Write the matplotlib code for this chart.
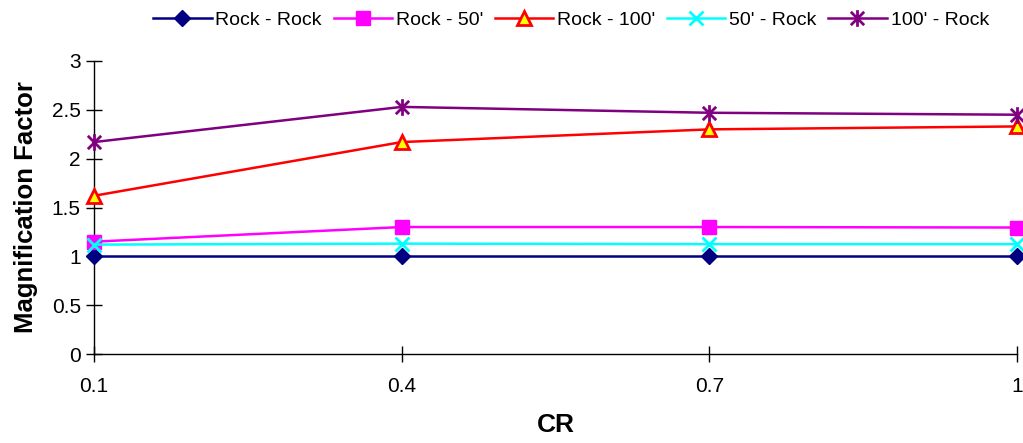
import matplotlib
matplotlib.use("Agg")
import matplotlib.pyplot as plt
from matplotlib.path import Path

plt.rcParams['font.family'] = ['Liberation Sans', 'DejaVu Sans']

categories = ["0.1", "0.4", "0.7", "1"]
rock_rock = [1.0, 1.0, 1.0, 1.0]
rock_50 = [1.15, 1.30, 1.30, 1.295]
rock_100 = [1.62, 2.17, 2.30, 2.33]
s50_rock = [1.12, 1.13, 1.125, 1.125]
s100_rock = [2.17, 2.53, 2.47, 2.45]
yticks = [0, 0.5, 1, 1.5, 2, 2.5, 3]
ytick_labels = ["0", "0.5", "1", "1.5", "2", "2.5", "3"]

star = Path([(-1, -1), (1, 1), (-1, 1), (1, -1), (0, -1.25), (0, 1.25)],
            [Path.MOVETO, Path.LINETO, Path.MOVETO, Path.LINETO, Path.MOVETO, Path.LINETO])

fig = plt.figure(figsize=(10.23, 4.43), dpi=100)
ax = fig.add_axes([94/1023, 89/443, 923/1023, 293/443])
x = list(range(len(categories)))

kw = dict(lw=1.8, clip_on=False, zorder=3)
ax.plot(x, rock_rock, color='#000080', marker='D', ms=8, mfc='#000080', mec='#000080', label='Rock - Rock', **kw)
ax.plot(x, rock_50, color='#FF00FF', marker='s', ms=10, mfc='#FF00FF', mec='#FF00FF', label="Rock - 50'", **kw)
ax.plot(x, rock_100, color='#FF0000', marker='^', ms=10, mfc='#FFFF00', mec='#FF0000', mew=2, label="Rock - 100'", **kw)
ax.plot(x, s50_rock, color='#00FFFF', marker='x', ms=10, mec='#00FFFF', mew=2, label="50' - Rock", **kw)
ax.plot(x, s100_rock, color='#800080', marker=star, ms=12, mec='#800080', mew=2, label="100' - Rock", **kw)

ax.set_xlim(0, 3)
ax.set_ylim(0, 3)
ax.set_xticks(x)
ax.set_xticklabels(categories)
ax.set_yticks(yticks)
ax.set_yticklabels(ytick_labels)
ax.tick_params(axis='both', direction='inout', length=11, width=1, labelsize=15, colors='black')
ax.tick_params(axis='x', pad=11)
ax.tick_params(axis='y', pad=4)
for s in ['top', 'right']:
    ax.spines[s].set_visible(False)
for s in ['left', 'bottom']:
    ax.spines[s].set_linewidth(1)

ax.set_xlabel('CR', fontsize=19, fontweight='bold', labelpad=12)
ax.set_ylabel('Magnification Factor', fontsize=18.5, fontweight='bold', labelpad=10)

fig.legend(loc='center', bbox_to_anchor=(571/1023, 1 - 20/443), ncol=5, frameon=False,
           fontsize=14, handlelength=3, handletextpad=0.2, columnspacing=0.6)

fig.savefig('out.png', dpi=100)
